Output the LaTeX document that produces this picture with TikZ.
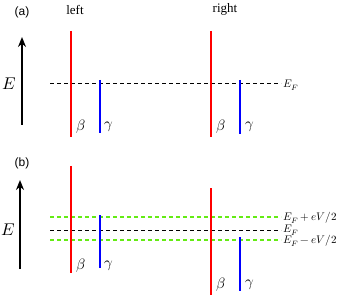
\documentclass[tikz,border=0pt]{standalone}
\usepackage{amsmath,amssymb}
\usepackage{fontspec}
\setmainfont{Liberation Serif}
\newfontfamily\panelfont{Liberation Sans}
\usepackage{unicode-math}
\setmathfont{Latin Modern Math}
\usepackage{tikz}
\usetikzlibrary{positioning}
\usetikzlibrary{arrows.meta}
\usepackage{xcolor}
\definecolor{biasgreen}{RGB}{100,235,20}

\begin{document}
\begin{tikzpicture}[x=1pt,y=-1pt,
    redlevel/.style={draw=red, line width=2.2pt},
    bluelevel/.style={draw=blue, line width=2.2pt},
    fermi/.style={draw=black, line width=0.9pt, dash pattern=on 4pt off 3pt},
    biasline/.style={draw=biasgreen, line width=1.2pt, dash pattern=on 4pt off 3pt},
    energy/.style={-{Stealth[length=10pt,width=8pt]}, line width=1.8pt},
    panel/.style={font=\panelfont\fontsize{12}{13}\selectfont},
    side/.style={font=\fontsize{13}{14}\selectfont},
    band/.style={font=\fontsize{15}{16}\selectfont},
    lvl/.style={anchor=west, font=\fontsize{11}{12}\selectfont, inner sep=1pt}]
    \useasboundingbox (0,0) rectangle (339,296);

    % Panel (a)
    \node[panel] (pa) at (22,12) {(a)};
    \node[side] (sleft) at (75,10) {left};
    \node[side] (sright) at (225,9) {right};
    \coordinate (ea0) at (22,125);
    \coordinate (ea1) at (22,37);
    \draw[energy] (ea0) -- (ea1);
    \node[font=\fontsize{17}{18}\selectfont] (Ea) at (9,84) {$E$};

    % Fermi level
    \coordinate (fa0) at (50,83);
    \coordinate (fa1) at (281,83);
    \draw[fermi] (fa0) -- (fa1);
    \node[lvl] (efa) at (282,85) {$E_F$};

    % Bands (a)
    \draw[redlevel] (71,31) -- (71,137);
    \draw[bluelevel] (100,80) -- (100,133);
    \draw[redlevel] (211,31) -- (211,137);
    \draw[bluelevel] (240,80) -- (240,134);
    \node[band] (ba1) at (81,127) {$\beta$};
    \node[band] (ga1) at (109,127) {$\gamma$};
    \node[band] (ba2) at (221,127) {$\beta$};
    \node[band] (ga2) at (250,127) {$\gamma$};

    % Panel (b)
    \node[panel] (pb) at (22,163) {(b)};
    \coordinate (eb0) at (20,269);
    \coordinate (eb1) at (20,180);
    \draw[energy] (eb0) -- (eb1);
    \node[font=\fontsize{17}{18}\selectfont] (Eb) at (8,230) {$E$};

    % Bias window
    \draw[biasline] (50,217) -- (281,217);
    \draw[fermi] (50,230) -- (281,230);
    \draw[biasline] (50,240) -- (281,240);
    \node[lvl] (efp) at (282,218) {$E_F+eV/2$};
    \node[lvl] (efb) at (282,230) {$E_F$};
    \node[lvl] (efm) at (282,241) {$E_F-eV/2$};

    % Bands (b)
    \draw[redlevel] (71,166) -- (71,273);
    \draw[bluelevel] (100,215) -- (100,268);
    \draw[redlevel] (211,188) -- (211,295);
    \draw[bluelevel] (240,237) -- (240,291);
    \node[band] (bb1) at (81,266) {$\beta$};
    \node[band] (gb1) at (109,266) {$\gamma$};
    \node[band] (bb2) at (221,285) {$\beta$};
    \node[band] (gb2) at (250,285) {$\gamma$};
\end{tikzpicture}
\end{document}
